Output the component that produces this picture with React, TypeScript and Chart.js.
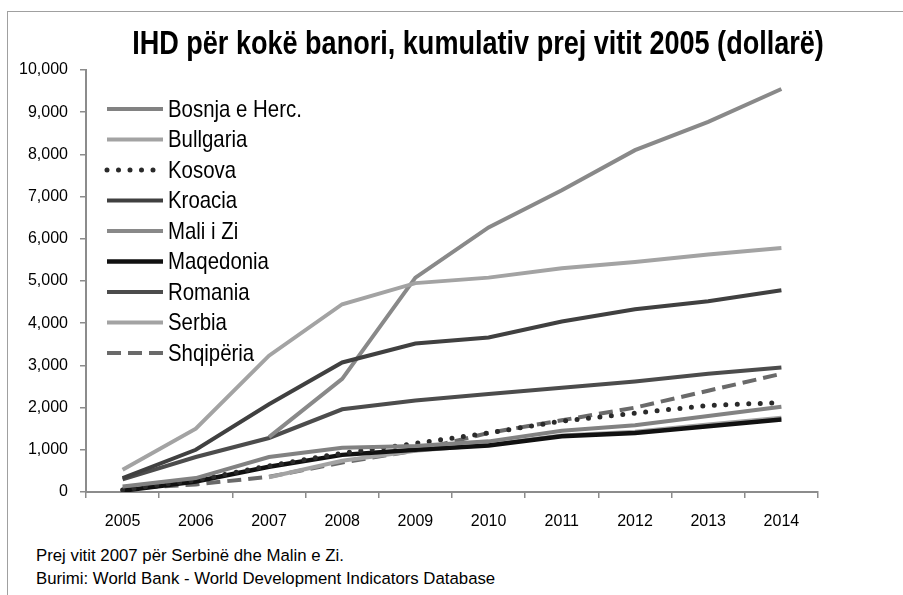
import React, { useEffect, useRef } from 'react';
import { Chart, registerables } from 'chart.js';

Chart.register(...registerables);

const years = ['2005', '2006', '2007', '2008', '2009', '2010', '2011', '2012', '2013', '2014'];
const yTicks = [0, 1000, 2000, 3000, 4000, 5000, 6000, 7000, 8000, 9000, 10000];

const bosnja = [130, 330, 830, 1050, 1090, 1200, 1450, 1580, 1800, 2020];
const bullgaria = [530, 1500, 3230, 4450, 4950, 5080, 5300, 5450, 5630, 5780];
const kosova = [50, 280, 620, 920, 1150, 1400, 1680, 1870, 2050, 2120];
const kroacia = [330, 1000, 2080, 3070, 3520, 3660, 4040, 4330, 4520, 4780];
const maliIZi = [null, null, 1300, 2680, 5080, 6270, 7150, 8100, 8770, 9550];
const maqedonia = [30, 250, 600, 880, 1000, 1100, 1320, 1400, 1560, 1720];
const romania = [300, 830, 1280, 1960, 2170, 2320, 2470, 2620, 2800, 2950];
const serbia = [null, null, 350, 740, 980, 1120, 1340, 1430, 1600, 1760];
const shqiperia = [80, 180, 360, 700, 980, 1400, 1700, 2000, 2400, 2800];

const TITLE = 'IHD për kokë banori, kumulativ prej vitit 2005 (dollarë)';
const NOTE1 = 'Prej vitit 2007 për Serbinë dhe Malin e Zi.';
const NOTE2 = 'Burimi: World Bank - World Development Indicators Database';

const SANS = '"Liberation Sans", Arial, sans-serif';

const narrowTitle = {
  id: 'narrowTitle',
  afterDraw(chart: any) {
    const { ctx } = chart;
    ctx.save();
    ctx.font = `bold 33px ${SANS}`;
    ctx.fillStyle = '#000';
    ctx.textAlign = 'center';
    ctx.textBaseline = 'middle';
    ctx.translate(478, 45);
    ctx.scale(0.82, 1);
    ctx.fillText(TITLE, 0, 0);
    ctx.restore();
  },
};

const insideLegend = {
  id: 'insideLegend',
  afterDraw(chart: any) {
    const { ctx, chartArea } = chart;
    const x0 = chartArea.left + 21;
    const x1 = chartArea.left + 77;
    const top = chartArea.top + 39;
    const row = 30.5;
    ctx.save();
    chart.data.datasets.forEach((ds: any, i: number) => {
      const y = top + i * row;
      ctx.strokeStyle = ds.borderColor;
      ctx.lineWidth = ds.borderWidth;
      ctx.setLineDash(ds.borderDash || []);
      ctx.lineCap = ds.borderCapStyle || 'butt';
      ctx.beginPath();
      ctx.moveTo(x0, y);
      ctx.lineTo(x1, y);
      ctx.stroke();
      ctx.setLineDash([]);
      ctx.save();
      ctx.font = `24px ${SANS}`;
      ctx.textBaseline = 'middle';
      ctx.fillStyle = '#000';
      ctx.translate(x1 + 5, y + 1);
      ctx.scale(0.85, 1);
      ctx.fillText(ds.label, 0, 0);
      ctx.restore();
    });
    ctx.restore();
  },
};

export default function App() {
  const ref = useRef<HTMLCanvasElement | null>(null);

  useEffect(() => {
    document.body.style.margin = '0';
    if (!ref.current) return;
    const mk = (label: string, data: any[], color: string, width: number, extra: any = {}) => ({
      label,
      data,
      borderColor: color,
      backgroundColor: color,
      borderWidth: width,
      pointRadius: 0,
      pointHoverRadius: 0,
      fill: false,
      tension: 0,
      spanGaps: false,
      ...extra,
    });
    const chart = new Chart(ref.current, {
      type: 'line',
      data: {
        labels: years,
        datasets: [
          mk('Bosnja e Herc.', bosnja, '#828282', 4),
          mk('Bullgaria', bullgaria, '#a3a3a3', 4),
          mk('Kosova', kosova, '#2a2a2a', 5, { borderDash: [0, 11.5], borderCapStyle: 'round' }),
          mk('Kroacia', kroacia, '#404040', 4),
          mk('Mali i Zi', maliIZi, '#898989', 4),
          mk('Maqedonia', maqedonia, '#111111', 4.5),
          mk('Romania', romania, '#4c4c4c', 4),
          mk('Serbia', serbia, '#a3a3a3', 4),
          mk('Shqipëria', shqiperia, '#6a6a6a', 4, { borderDash: [14, 7] }),
        ],
      },
      options: {
        responsive: false,
        animation: false,
        events: [],
        layout: { padding: { left: 0, right: 85, top: 70, bottom: 0 } },
        plugins: {
          legend: { display: false },
          tooltip: { enabled: false },
          title: { display: false },
        },
        scales: {
          x: {
            type: 'category',
            offset: true,
            grid: {
              display: true,
              offset: true,
              drawOnChartArea: false,
              drawTicks: true,
              tickLength: 6,
              color: '#8c8c8c',
              lineWidth: 1.5,
            },
            border: { display: true, color: '#8c8c8c', width: 2 },
            ticks: {
              color: '#000',
              font: { family: SANS, size: 16 },
              padding: 14,
              maxRotation: 0,
              autoSkip: false,
            },
            afterFit: (s: any) => { s.height = 48; },
          },
          y: {
            min: 0,
            max: 10000,
            afterBuildTicks: (s: any) => { s.ticks = yTicks.map((v) => ({ value: v })); },
            grid: {
              display: true,
              drawOnChartArea: false,
              drawTicks: true,
              tickLength: 6,
              color: '#8c8c8c',
              lineWidth: 1.5,
            },
            border: { display: true, color: '#8c8c8c', width: 2 },
            ticks: {
              color: '#000',
              font: { family: SANS, size: 16 },
              padding: 12,
              callback: (v: any) => Number(v).toLocaleString('en-US'),
            },
            afterFit: (s: any) => { s.width = 86; },
          },
        },
      },
      plugins: [narrowTitle, insideLegend],
    });
    return () => chart.destroy();
  }, []);

  return (
    <div style={{ position: 'relative', width: 903, height: 595, overflow: 'hidden', background: '#fff' }}>
      <div
        style={{
          position: 'absolute',
          left: 7,
          top: 11,
          width: 920,
          height: 620,
          border: '1.5px solid #a0a0a0',
          boxSizing: 'border-box',
        }}
      />
      <canvas ref={ref} width={903} height={540} style={{ position: 'absolute', left: 0, top: 0, width: 903, height: 540 }} />
      <div style={{ position: 'absolute', left: 36, top: 544, font: `16.8px ${SANS}`, color: '#000', lineHeight: '23px', whiteSpace: 'nowrap' }}>
        <div>{NOTE1}</div>
        <div>{NOTE2}</div>
      </div>
    </div>
  );
}
